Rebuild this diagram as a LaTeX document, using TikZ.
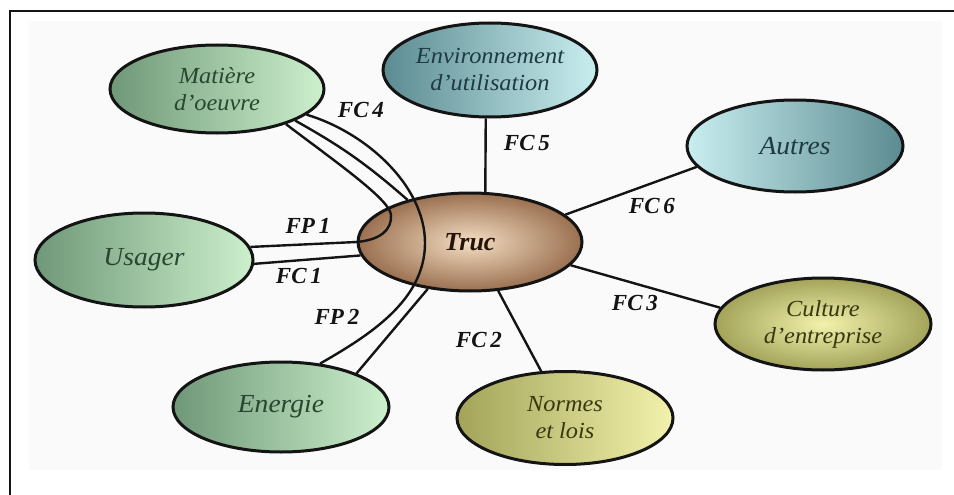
\documentclass[tikz,border=0pt]{standalone}
\usepackage{fontspec}
\setmainfont{Liberation Serif}
\newfontfamily\namefont[FakeStretch=1.06]{Liberation Serif}
\usetikzlibrary{shapes.geometric}

\definecolor{edge}{HTML}{141414}
\definecolor{panel}{HTML}{FAFAFA}
\definecolor{greenD}{HTML}{6F9878}
\definecolor{greenL}{HTML}{CDF0CD}
\definecolor{gtext}{HTML}{27472F}
\definecolor{tealD}{HTML}{5B8B91}
\definecolor{tealL}{HTML}{C9EEF0}
\definecolor{ttext}{HTML}{1E3A42}
\definecolor{oliveD}{HTML}{A3A45A}
\definecolor{oliveL}{HTML}{F2F2AC}
\definecolor{otext}{HTML}{38380F}
\definecolor{brownD}{HTML}{9A7050}
\definecolor{brownL}{HTML}{F5DEC3}
\definecolor{btext}{HTML}{24130A}

\begin{document}
\begin{tikzpicture}[x=1pt,y=-1pt,
  blob/.style={ellipse, draw=edge, line width=3pt, inner sep=0pt, align=center},
  single/.style={font=\namefont\itshape\fontsize{26}{30}\selectfont},
  double/.style={font=\namefont\itshape\fontsize{23}{27}\selectfont},
  link/.style={draw=edge, line width=2.4pt},
  tag/.style={font=\bfseries\itshape\fontsize{23}{26}\selectfont, text=edge, inner sep=0pt}
]
\useasboundingbox (0,0) rectangle (954,495);
\fill[white] (0,0) rectangle (954,495);
\fill[panel] (29,21) rectangle (942,470);
% frame
\draw[edge, line width=2.4pt] (10,495) -- (10,11.3) -- (954,11.3);

% surrounding elements
\node[blob, double, minimum width=214pt, minimum height=88pt,
      left color=greenD, right color=greenL, text=gtext] (mat) at (217,89) {Matière\\d’oeuvre};
\node[blob, double, minimum width=214pt, minimum height=94pt,
      left color=tealD, right color=tealL, text=ttext] (env) at (490,70) {Environnement\\d’utilisation};
\node[blob, single, minimum width=216pt, minimum height=92pt,
      left color=tealL, right color=tealD, text=ttext] (aut) at (795,146) {Autres};
\node[blob, single, minimum width=218pt, minimum height=94pt,
      left color=greenD, right color=greenL, text=gtext] (usa) at (144,260) {Usager};
\node[blob, single, minimum width=216pt, minimum height=90pt,
      left color=greenD, right color=greenL, text=gtext] (ene) at (281,407) {Energie};
\node[blob, double, minimum width=216pt, minimum height=93pt,
      left color=oliveD, right color=oliveL, text=otext] (nor) at (565,418) {Normes\\et lois};
\node[blob, double, minimum width=216pt, minimum height=92pt,
      inner color=oliveL, outer color=oliveD, text=otext] (cul) at (823,324) {Culture\\d’entreprise};

% the product
\node[blob, minimum width=224pt, minimum height=98pt,
      inner color=brownL, outer color=brownD, text=btext,
      font=\bfseries\itshape\fontsize{26}{30}\selectfont] (truc) at (470,242) {Truc};

% constraint functions
\draw[link] (env.-95) -- (truc.73);
\draw[link] (truc.16) -- (aut.-168);
\draw[link] (truc.-13) -- (cul.171);
\draw[link] (truc.-60) -- (nor.117);
\draw[link] (usa.-2) -- (truc.-173);
\draw[link] (mat.-22) to[bend left=6] (truc.146);
\draw[link] (ene.24) -- (truc.-132);

% principal functions, passing through the product
\draw[link] (usa.7) -- (truc.180)
  .. controls (380,240) and (392,230) .. (391,215)
  .. controls (390,200) and (340,165) .. (mat.-27);
\draw[link] (mat.-16)
  .. controls (365,132) and (425,185) .. (425,243)
  .. controls (425,300) and (370,335) .. (ene.48);

% function labels
\node[tag] (lfp1) at (308,226) {FP\,1};
\node[tag] (lfc1) at (299,276) {FC\,1};
\node[tag] (lfp2) at (337,317) {FP\,2};
\node[tag] (lfc4) at (361,110) {FC\,4};
\node[tag] (lfc5) at (527,143) {FC\,5};
\node[tag] (lfc6) at (652,206) {FC\,6};
\node[tag] (lfc3) at (635,303) {FC\,3};
\node[tag] (lfc2) at (479,340) {FC\,2};
\end{tikzpicture}
\end{document}
